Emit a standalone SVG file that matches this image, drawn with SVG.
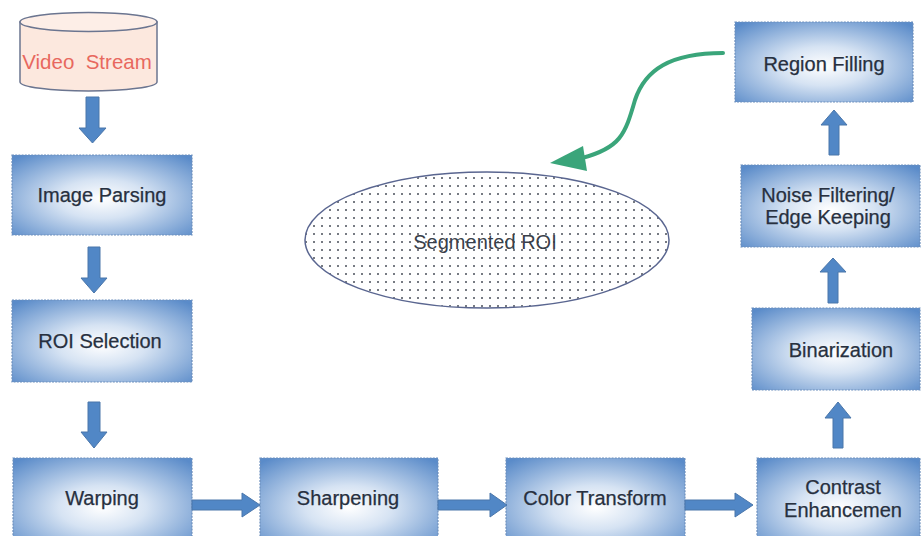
<svg xmlns="http://www.w3.org/2000/svg" width="924" height="536" viewBox="0 0 924 536">
<defs>
<radialGradient id="boxg" cx="50%" cy="55%" r="70%">
<stop offset="0%" stop-color="#ffffff"/>
<stop offset="35%" stop-color="#d6e3f3"/>
<stop offset="100%" stop-color="#5a8bc9"/>
</radialGradient>
<pattern id="dots" width="8" height="8" patternUnits="userSpaceOnUse">
<rect width="8" height="8" fill="#ffffff"/>
<circle cx="2" cy="2" r="1" fill="#4a4f5a"/>
</pattern>
<style>
.box{fill:url(#boxg);stroke:#6d8fbd;stroke-width:1.2;stroke-dasharray:2 1.2}
.lbl{font-family:"Liberation Sans",Arial,sans-serif;font-size:20px;fill:#27303f;stroke:#27303f;stroke-width:0.25;text-anchor:middle}
.blk{fill:#5187c6;stroke:#4a76aa;stroke-width:1}
</style>
</defs>
<rect width="924" height="536" fill="#ffffff"/>

<g id="video-stream">
<path d="M20,22 L20,82 A68.5,9 0 0 0 157,82 L157,22 Z" fill="#fce8de" stroke="#6b7590" stroke-width="1.5"/>
<ellipse cx="88.5" cy="22" rx="68.5" ry="9.5" fill="#fdeee7" stroke="#6b7590" stroke-width="1.5"/>
<text x="87" y="69" class="lbl" style="fill:#e8685e;stroke:none;font-size:20.5px;white-space:pre">Video  Stream</text>
</g>

<g id="image-parsing">
<rect x="12" y="155" width="180" height="80" class="box"/>
<text x="102" y="202" class="lbl">Image Parsing</text>
</g>

<g id="roi-selection">
<rect x="12" y="300" width="180" height="82" class="box"/>
<text x="100" y="348" class="lbl">ROI Selection</text>
</g>

<g id="warping">
<rect x="13" y="458" width="179" height="90" class="box"/>
<text x="102" y="505" class="lbl">Warping</text>
</g>

<g id="sharpening">
<rect x="260" y="458" width="178" height="90" class="box"/>
<text x="348" y="505" class="lbl">Sharpening</text>
</g>

<g id="color-transform">
<rect x="506" y="458" width="179" height="90" class="box"/>
<text x="595" y="505" class="lbl">Color Transform</text>
</g>

<g id="contrast-enhancement">
<rect x="757" y="458" width="163" height="90" class="box"/>
<text x="843" y="494" class="lbl">Contrast</text>
<text x="843" y="517" class="lbl">Enhancemen</text>
</g>

<g id="binarization">
<rect x="752" y="308" width="168" height="82" class="box"/>
<text x="841" y="357" class="lbl">Binarization</text>
</g>

<g id="noise-filtering">
<rect x="741" y="165" width="179" height="82" class="box"/>
<text x="828" y="202" class="lbl">Noise Filtering/</text>
<text x="828" y="224" class="lbl">Edge Keeping</text>
</g>

<g id="region-filling">
<rect x="735" y="22" width="178" height="80" class="box"/>
<text x="824" y="71" class="lbl">Region Filling</text>
</g>

<g id="segmented-roi">
<ellipse cx="487" cy="240" rx="182" ry="68" fill="url(#dots)" stroke="#5a6690" stroke-width="1.5"/>
<text x="485" y="249" class="lbl" style="fill:#3a3f4a;stroke:none;font-size:20px">Segmented ROI</text>
</g>

<g id="connectors">
<path class="blk" d="M86,97 L99,97 L99,128 L106,128 L92.5,143 L79,128 L86,128 Z"/>
<path class="blk" d="M88,247 L100,247 L100,278 L107,278 L94,293 L81,278 L88,278 Z"/>
<path class="blk" d="M88,402 L100,402 L100,432 L107,432 L94,448 L81,432 L88,432 Z"/>
<path class="blk" d="M192,500 L242,500 L242,493 L260,505 L242,517 L242,510 L192,510 Z"/>
<path class="blk" d="M438,500 L490,500 L490,493 L507,505 L490,517 L490,510 L438,510 Z"/>
<path class="blk" d="M685,500 L735,500 L735,493 L753,505 L735,517 L735,510 L685,510 Z"/>
<path class="blk" d="M833,448 L843,448 L843,418 L851,418 L838,402 L825,418 L833,418 Z"/>
<path class="blk" d="M828,303 L838,303 L838,272 L846,272 L833,258 L820,272 L828,272 Z"/>
<path class="blk" d="M829,155 L839,155 L839,125 L847,125 L834,110 L821,125 L829,125 Z"/>
<path d="M723,53 C670,53 645,70 635,100 C625,135 620,148 582,158" fill="none" stroke="#3aa57a" stroke-width="4" stroke-linecap="round"/>
<path d="M550,163 L583,146 L587,171 Z" fill="#3aa57a"/>
</g>
</svg>
